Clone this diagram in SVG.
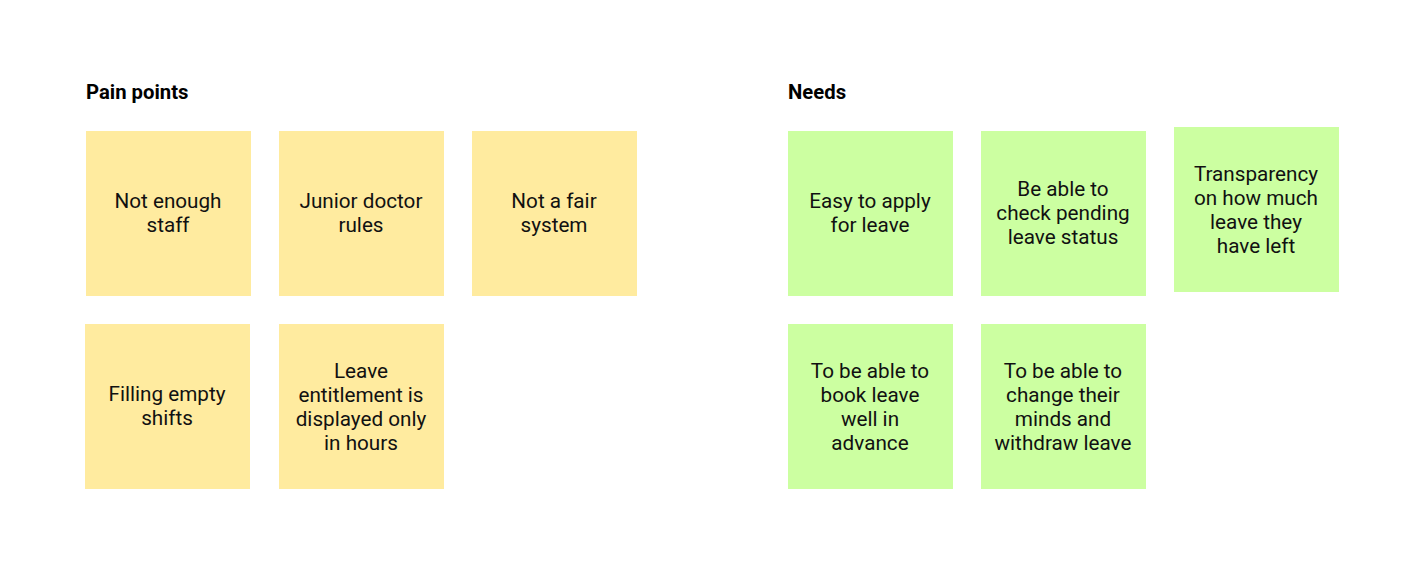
<svg xmlns="http://www.w3.org/2000/svg" width="1403" height="573" viewBox="0 0 1403 573">
<style>
.bg{fill:#ffffff}
.y{fill:#FFEB9F}
.g{fill:#CCFFA1}
.t{font-family:Roboto,"Liberation Sans",sans-serif;font-size:20.7px;fill:#111111;text-anchor:middle}
.h{font-family:Roboto,"Liberation Sans",sans-serif;font-size:20.3px;font-weight:bold;fill:#000000}
</style>
<rect class="bg" x="0" y="0" width="1403" height="573"/>
<g id="titles">
<text class="h" x="86" y="99">Pain points</text>
<text class="h" x="788" y="99">Needs</text>
</g>
<g id="connectors"></g>
<g id="p1"><rect class="y" x="86" y="131" width="165" height="165"/><text class="t" x="168" y="208">Not enough</text><text class="t" x="168" y="232">staff</text></g>
<g id="p2"><rect class="y" x="279" y="131" width="165" height="165"/><text class="t" x="361" y="208">Junior doctor</text><text class="t" x="361" y="232">rules</text></g>
<g id="p3"><rect class="y" x="472" y="131" width="165" height="165"/><text class="t" x="554" y="208">Not a fair</text><text class="t" x="554" y="232">system</text></g>
<g id="p4"><rect class="y" x="85" y="324" width="165" height="165"/><text class="t" x="167" y="401">Filling empty</text><text class="t" x="167" y="425">shifts</text></g>
<g id="p5"><rect class="y" x="279" y="324" width="165" height="165"/><text class="t" x="361" y="377.5">Leave</text><text class="t" x="361" y="401.5">entitlement is</text><text class="t" x="361" y="425.5">displayed only</text><text class="t" x="361" y="449.5">in hours</text></g>
<g id="n1"><rect class="g" x="788" y="131" width="165" height="165"/><text class="t" x="870" y="208">Easy to apply</text><text class="t" x="870" y="232">for leave</text></g>
<g id="n2"><rect class="g" x="981" y="131" width="165" height="165"/><text class="t" x="1063" y="196">Be able to</text><text class="t" x="1063" y="220">check pending</text><text class="t" x="1063" y="244">leave status</text></g>
<g id="n3"><rect class="g" x="1174" y="127" width="165" height="165"/><text class="t" x="1256" y="180.5">Transparency</text><text class="t" x="1256" y="204.5">on how much</text><text class="t" x="1256" y="228.5">leave they</text><text class="t" x="1256" y="252.5">have left</text></g>
<g id="n4"><rect class="g" x="788" y="324" width="165" height="165"/><text class="t" x="870" y="377.5">To be able to</text><text class="t" x="870" y="401.5">book leave</text><text class="t" x="870" y="425.5">well in</text><text class="t" x="870" y="449.5">advance</text></g>
<g id="n5"><rect class="g" x="981" y="324" width="165" height="165"/><text class="t" x="1063" y="377.5">To be able to</text><text class="t" x="1063" y="401.5">change their</text><text class="t" x="1063" y="425.5">minds and</text><text class="t" x="1063" y="449.5">withdraw leave</text></g>
</svg>
